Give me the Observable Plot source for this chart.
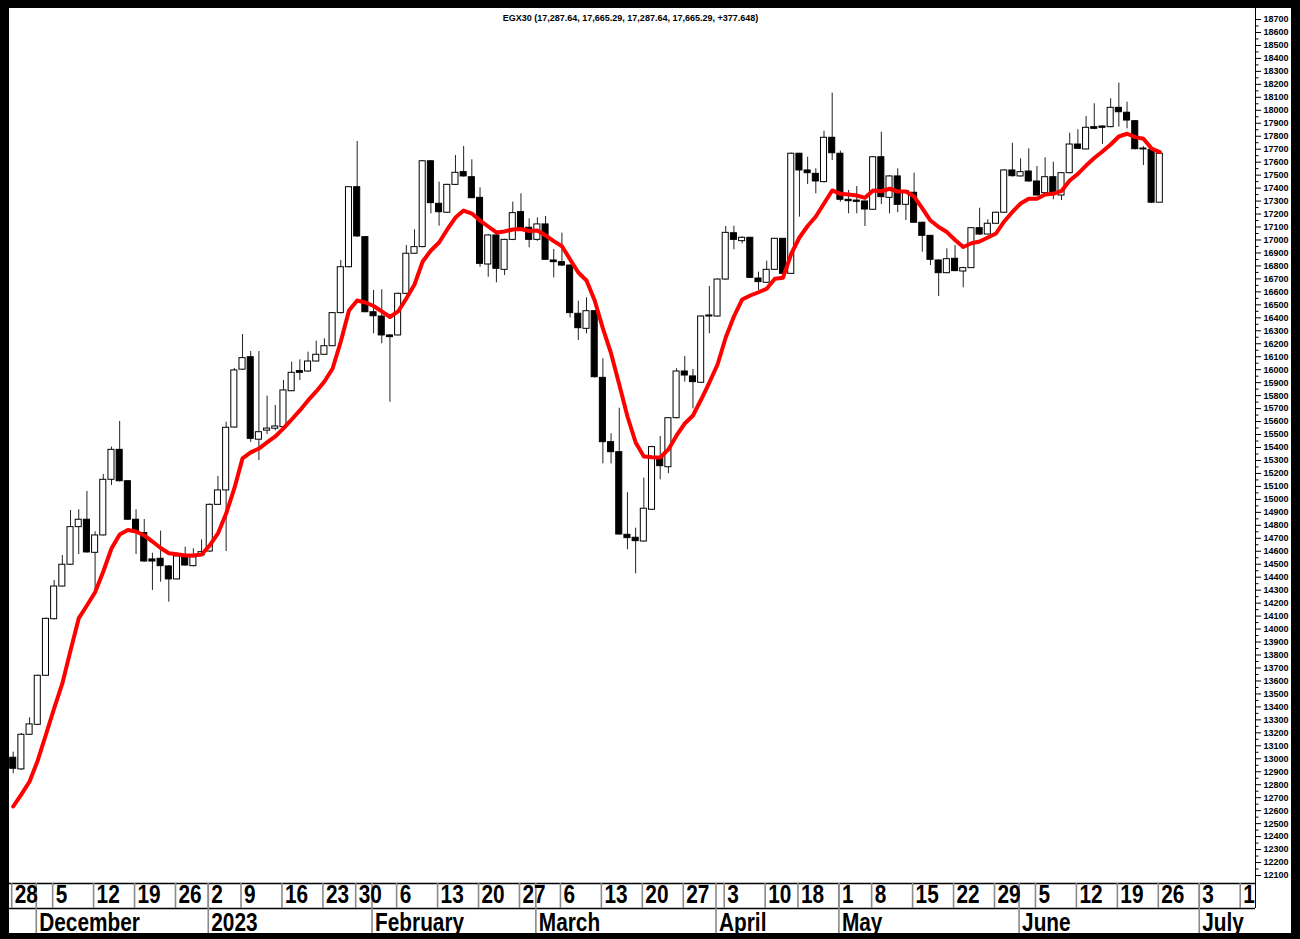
<!DOCTYPE html>
<html>
<head>
<meta charset="utf-8">
<script src="https://cdn.jsdelivr.net/npm/d3@7"></script>
<script src="https://cdn.jsdelivr.net/npm/@observablehq/plot@0.6"></script>
<style>
html, body { margin: 0; padding: 0; background: #fff; }
#page { position: absolute; left: 0; top: 0; width: 1300px; height: 939px; background: #fff; overflow: hidden; }
#main { position: absolute; left: 9px; top: 8px; }
#strip { position: absolute; left: 9px; top: 878px; }
.bd { position: absolute; background: #000; z-index: 10; }
#axisline { position: absolute; left: 1255px; top: 8px; width: 1px; height: 900px; background: #000; }
#title { position: absolute; top: 13px; left: 630.5px; transform: translateX(-50%); white-space: nowrap;
  font: bold 9px "Liberation Sans", Arial, sans-serif; line-height: 11px; color: #000; }
svg text { font-family: "Liberation Sans", Arial, sans-serif; }
</style>
</head>
<body>
<div id="page">
  <div id="main"></div>
  <div id="strip"></div>
  <div id="axisline"></div>
  <div id="title">EGX30 (17,287.64, 17,665.29, 17,287.64, 17,665.29, +377.648)</div>
  <div class="bd" style="left:0;top:0;width:1300px;height:8px"></div>
  <div class="bd" style="left:0;top:0;width:9px;height:939px"></div>
  <div class="bd" style="left:1291px;top:0;width:9px;height:939px"></div>
  <div class="bd" style="left:0;top:933px;width:1300px;height:6px"></div>
</div>
<script>
// ---- Data: daily EGX30 candles (one entry per trading day) ----
const open = [13008,12918,13185,13262,13640,14076,14328,14496,14786,14843,14588,14722,15151,15382,15140,14843,14740,14537,14542,14483,14383,14560,14485,14567,14598,14958,15069,15554,16000,16096,15460,15530,15545,15557,15834,15989,15986,16063,16115,16181,16436,16790,17407,17022,16443,16410,16264,16264,16585,16894,16945,17607,17279,17210,17425,17523,17484,17325,16811,17035,16770,17001,17215,17094,17001,17120,16842,16829,16803,16431,16315,16451,15937,15441,15364,14727,14704,14675,14920,15325,15248,15626,15986,15948,15899,16410,16410,16695,17052,16991,17017,16703,16670,16770,17009,16739,17665,17536,17510,17446,17788,17665,17310,17304,17297,17233,17638,17325,17490,17271,17364,17133,17032,16842,16744,16855,16757,16783,17091,17042,17125,17210,17536,17490,17528,17451,17361,17484,17343,17515,17736,17698,17870,17875,17870,18019,17981,17916,17705,17695,17287.64];
const high = [13051,13195,13316,13645,14085,14375,14567,14914,14920,15061,14750,15192,15403,15601,15145,14920,14845,14585,14755,14490,14565,14631,14619,14688,14965,15177,15595,16010,16271,16140,16140,15796,15724,15917,16058,16076,16135,16220,16238,16440,16842,17410,17759,17025,16611,16616,16270,16590,16958,17079,17612,17610,17446,17430,17651,17721,17618,17402,17040,17040,17005,17292,17356,17163,17171,17181,16927,17053,16808,16528,16554,16455,16084,15506,15703,15051,14778,15164,15410,15485,15630,16007,16102,16002,16415,16641,16700,17104,17106,17025,17020,16752,16837,17012,17012,17670,17668,17638,17549,17839,18132,17685,17382,17412,17300,17642,17831,17495,17549,17380,17515,17136,17035,16845,16932,16958,16790,17095,17245,17156,17215,17540,17746,17626,17703,17567,17634,17600,17520,17823,17850,17952,18050,17880,18089,18209,18062,17920,17720,17715,17665.29];
const low = [12884,12910,13180,13255,13635,14070,14325,14490,14575,14585,14272,14718,15107,15135,14838,14575,14515,14298,14362,14207,14380,14485,14480,14560,14590,14955,14598,15550,15995,15440,15300,15500,15530,15550,15830,15917,15980,16060,16110,16178,16430,16785,17020,16440,16277,16200,15749,16260,16580,16890,16940,17202,17106,17205,17420,17485,17320,16790,16713,16670,16726,16995,17080,16940,16990,16845,16708,16795,16400,16225,16277,15935,15274,15274,14725,14612,14426,14670,14915,15151,15198,15620,15904,15698,15895,16277,16405,16690,16924,16970,16705,16611,16665,16765,16735,16735,17176,17428,17356,17440,17613,17292,17202,17202,17104,17228,17274,17202,17210,17150,17130,16906,16803,16564,16740,16755,16631,16780,17035,17040,17120,17205,17485,17485,17445,17340,17355,17310,17304,17510,17700,17695,17850,17736,17865,17870,17857,17695,17574,17280,17287.64];
const close = [12923,13185,13265,13640,14079,14328,14496,14786,14843,14591,14722,15151,15382,15140,14843,14753,14521,14521,14485,14383,14560,14490,14554,14593,14958,15069,15552,15994,16089,15467,15518,15546,15562,15840,15976,15976,16063,16115,16181,16436,16790,17407,17027,16443,16412,16264,16251,16585,16894,16945,17607,17284,17214,17425,17518,17490,17322,16816,17035,16778,17001,17207,17083,17001,17120,16847,16829,16803,16436,16320,16451,15942,15441,15364,14729,14701,14678,14928,15403,15256,15626,15986,15955,15904,16410,16418,16695,17055,17001,17017,16708,16675,16770,17009,16739,17665,17536,17515,17451,17788,17669,17310,17299,17294,17235,17638,17330,17490,17271,17376,17133,17032,16847,16744,16852,16760,16783,17091,17042,17125,17210,17536,17492,17523,17451,17343,17484,17369,17515,17736,17703,17865,17857,17865,18019,17985,17921,17700,17698,17287.64,17665.29];
// red moving average, one value per trading day
const ma = [12632,12725,12825,12987,13187,13388,13581,13835,14082,14182,14284,14444,14621,14729,14764,14752,14722,14675,14625,14585,14577,14567,14567,14575,14645,14737,14891,15084,15316,15362,15392,15439,15485,15547,15616,15686,15763,15832,15909,16009,16217,16456,16533,16518,16491,16449,16406,16449,16549,16657,16834,16919,16981,17081,17173,17227,17204,17150,17104,17058,17066,17081,17085,17069,17073,17035,16991,16952,16850,16749,16688,16533,16318,16125,15886,15639,15439,15331,15325,15323,15385,15493,15585,15647,15770,15901,16040,16248,16410,16541,16572,16597,16624,16701,16709,16894,17019,17108,17181,17281,17382,17356,17351,17343,17325,17382,17376,17395,17374,17374,17335,17243,17150,17100,17061,17000,16946,16975,16988,17019,17050,17143,17216,17281,17318,17318,17351,17356,17378,17459,17510,17574,17632,17682,17736,17798,17819,17793,17780,17705,17678];

// x-axis labels: first trading day (index) of each week / month
const weekLabels = ["28","5","12","19","26","2","9","16","23","30","6","13","20","27","6","13","20","27","3","10","18","1","8","15","22","29","5","12","19","26","3","10"];
const weekStart  = [0,5,10,15,20,24,28,33,38,42,47,52,57,62,67,72,77,82,87,92,96,101,105,110,115,120,125,130,135,140,145,150];
const monthLabels = ["December","2023","February","March","April","May","June","July"];
const monthStart  = [3,24,44,64,86,101,123,145];

const yTicks = d3.range(12100, 18701, 100);
const yMinor = d3.range(12150, 18700, 100);

// ---- Build ----
const N = close.length;
const candles = d3.range(N).map(i => ({i, open: open[i], high: high[i], low: low[i], close: close[i]}));
const up = candles.filter(d => d.close >= d.open);
const down = candles.filter(d => d.close < d.open);
const maData = ma.map((v, i) => ({i, v}));

const xScale = {domain: [0, N - 1], range: [3.7, 1150.3], axis: null};
const font = "'Liberation Sans', Arial, sans-serif";

const mainSvg = Plot.plot({
  width: 1282, height: 874,
  marginLeft: 0, marginRight: 36, marginTop: 0, marginBottom: 0,
  style: {background: "transparent", fontFamily: font, color: "#000", overflow: "visible"},
  x: xScale,
  y: {domain: [12100, 18700], range: [867, 11]},
  marks: [
    Plot.ruleX(candles, {x: "i", y1: "low", y2: "high", stroke: "#222", strokeWidth: 1}),
    Plot.rect(up, {x1: d => d.i - 0.37, x2: d => d.i + 0.37, y1: "open", y2: "close", fill: "#fff", stroke: "#000", strokeWidth: 1}),
    Plot.rect(down, {x1: d => d.i - 0.37, x2: d => d.i + 0.37, y1: "open", y2: "close", fill: "#000", stroke: "#000", strokeWidth: 1}),
    Plot.line(maData, {x: "i", y: "v", stroke: "#ff0000", strokeWidth: 4, strokeLinejoin: "round", strokeLinecap: "round"}),
    Plot.axisY({anchor: "right", ticks: yTicks, tickSize: 5, tickPadding: 3, tickFormat: d => String(d),
      fontSize: 9, fontWeight: "bold", label: null}),
    Plot.axisY({anchor: "right", ticks: yMinor, tickSize: 2.5, tickFormat: () => "", label: null})
  ]
});
document.getElementById("main").append(mainSvg);

// date strip: day row and month row (page y 883..933)
const stripSvg = Plot.plot({
  width: 1282, height: 61,
  marginLeft: 0, marginRight: 36, marginTop: 0, marginBottom: 0,
  style: {background: "transparent", fontFamily: font, color: "#000"},
  x: xScale,
  y: {domain: [0, 2], range: [5, 55], axis: null},
  marks: [
    Plot.ruleY([0, 1], {stroke: "#000", strokeWidth: 1.5}),
    Plot.ruleX(weekStart, {x: d => d, y1: 0, y2: 1, dx: -1.5, stroke: "#8a8a8a", strokeWidth: 1.6, clip: true}),
    Plot.ruleX(monthStart, {x: d => d, y1: 0, y2: 2, dx: -1.5, stroke: "#8a8a8a", strokeWidth: 1.6, clip: true}),
    Plot.text(weekLabels, {x: (d, i) => weekStart[i], y: 0.5, text: d => d, textAnchor: "start", dx: 1.5, dy: -1,
      fontSize: 25, fontWeight: "bold", fill: "#000", clip: true}),
    Plot.text(monthLabels, {x: (d, i) => monthStart[i], y: 1.5, text: d => d, textAnchor: "start", dx: 1.5, dy: 2,
      fontSize: 25, fontWeight: "bold", fill: "#000", clip: true})
  ]
});
document.getElementById("strip").append(stripSvg);
// narrow the tall bold labels horizontally (condensed look of the original)
stripSvg.querySelectorAll("text").forEach(t => {
  const w = t.getComputedTextLength();
  if (w > 0) {
    t.setAttribute("textLength", (w * 0.832).toFixed(2));
    t.setAttribute("lengthAdjust", "spacingAndGlyphs");
  }
});
</script>
</body>
</html>
